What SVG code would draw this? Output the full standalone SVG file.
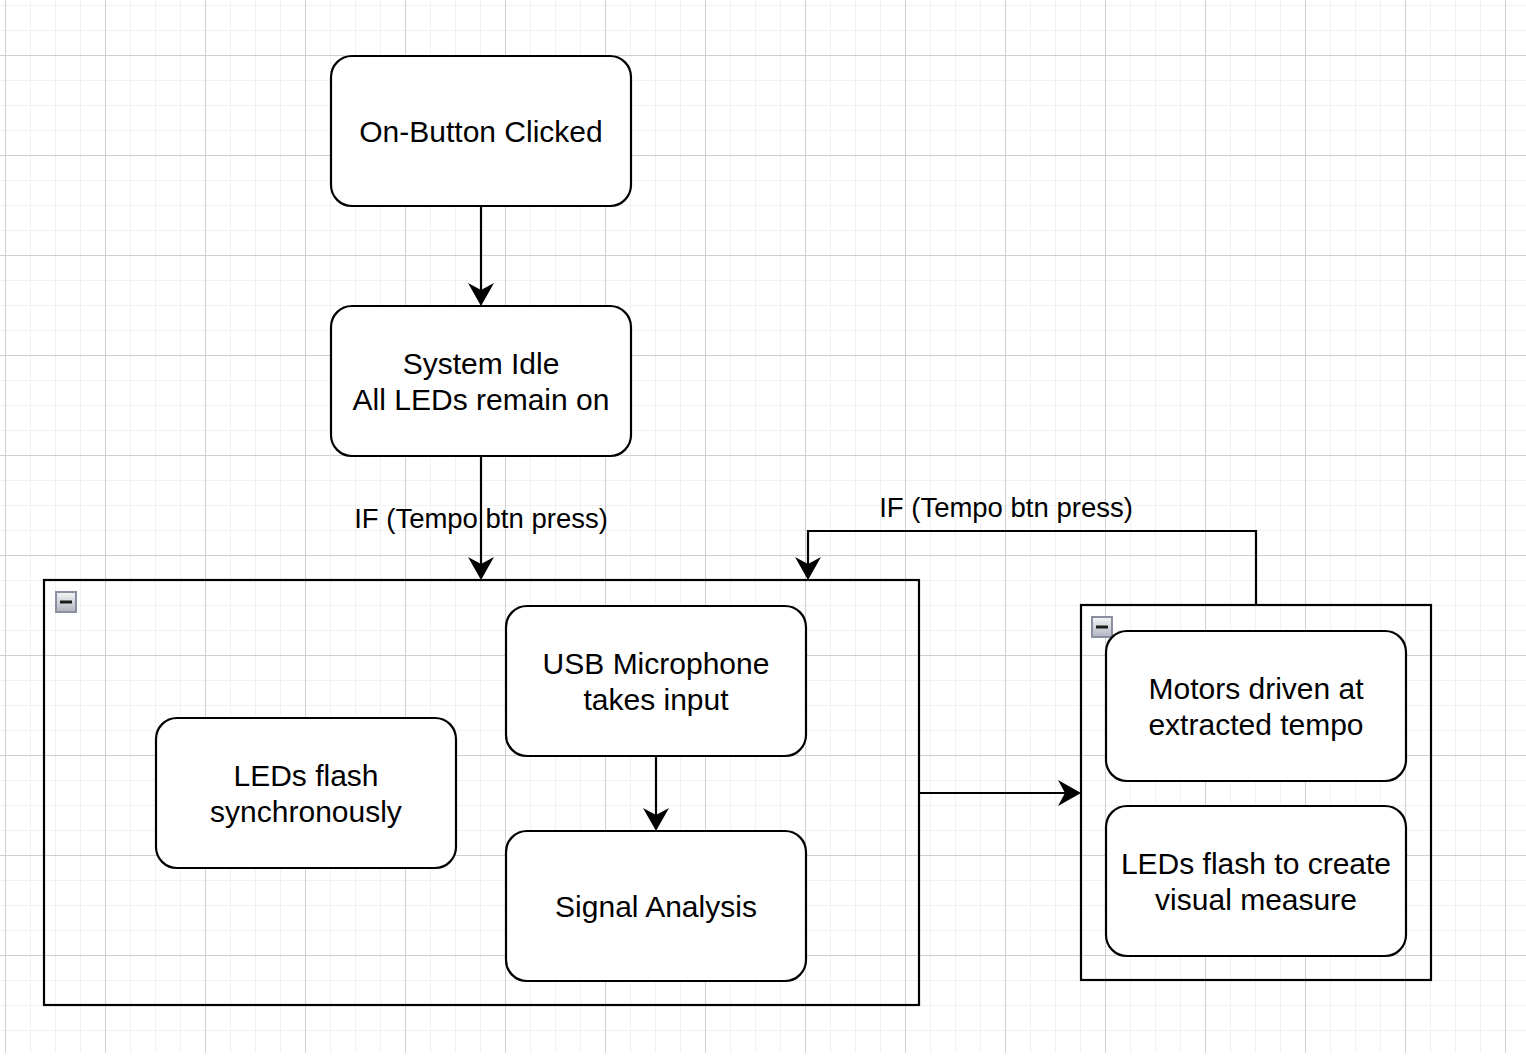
<svg xmlns="http://www.w3.org/2000/svg" width="1526" height="1056" viewBox="0 0 1526 1056">
<defs>
<pattern id="grid" patternUnits="userSpaceOnUse" x="5" y="55" width="100" height="100">
<g fill="#f1f1f1">
<rect x="25" y="0" width="1" height="100"/><rect x="50" y="0" width="1" height="100"/><rect x="75" y="0" width="1" height="100"/>
<rect x="0" y="25" width="100" height="1"/><rect x="0" y="50" width="100" height="1"/><rect x="0" y="75" width="100" height="1"/>
</g>
<g fill="#d0d0d0"><rect x="0" y="0" width="1" height="100"/><rect x="0" y="0" width="100" height="1"/></g>
</pattern>
<linearGradient id="icon" x1="0" y1="0" x2="0" y2="1"><stop offset="0" stop-color="#f6f6f6"/><stop offset="1" stop-color="#b0b4c0"/></linearGradient>
<marker id="arr" viewBox="0 0 23 26" markerWidth="23" markerHeight="26" markerUnits="userSpaceOnUse" refX="7" refY="13" orient="auto"><path d="M23,13 L0,0 L7,13 L0,26 Z" fill="#000"/></marker>
</defs>
<style>
.box{fill:#fff;stroke:#000;stroke-width:2.2}
.cont{fill:none;stroke:#000;stroke-width:2.2}
.t{font-family:"Liberation Sans",Arial,Helvetica,sans-serif;font-size:30px;fill:#000;text-anchor:middle}
.lbl{font-family:"Liberation Sans",Arial,Helvetica,sans-serif;font-size:27.5px;fill:#000;text-anchor:middle}
.edge{fill:none;stroke:#000;stroke-width:2.2}
.ic{fill:url(#icon);stroke:#8a90a0;stroke-width:2}
.minus{stroke:#1a1a1a;stroke-width:3}
</style>
<rect x="0" y="0" width="1526" height="1056" fill="#fff"/>
<rect x="0" y="0" width="1526" height="1053" fill="url(#grid)"/>

<g id="container1">
<rect class="cont" x="44" y="580" width="875" height="425"/>
<rect class="ic" x="56" y="592" width="20" height="20"/>
<line class="minus" x1="60" y1="602" x2="72" y2="602"/>
</g>
<g id="container2">
<rect class="cont" x="1081" y="605" width="350" height="375"/>
<rect class="ic" x="1092" y="617" width="20" height="20"/>
<line class="minus" x1="1096" y1="627" x2="1108" y2="627"/>
</g>

<g id="connectors">
<path class="edge" d="M481,206 L481,290" marker-end="url(#arr)"/>
<path class="edge" d="M481,456 L481,564" marker-end="url(#arr)"/>
<path class="edge" d="M656,756 L656,815" marker-end="url(#arr)"/>
<path class="edge" d="M919,793 L1065,793" marker-end="url(#arr)"/>
<path class="edge" d="M1256,605 L1256,531 L808,531 L808,564" marker-end="url(#arr)"/>
<text class="lbl" x="481" y="527.5">IF (Tempo btn press)</text>
<text class="lbl" x="1006" y="516.5">IF (Tempo btn press)</text>
</g>

<g id="on-button">
<rect class="box" x="331" y="56" width="300" height="150" rx="21"/>
<text class="t" x="481" y="141.5">On-Button Clicked</text>
</g>
<g id="system-idle">
<rect class="box" x="331" y="306" width="300" height="150" rx="21"/>
<text class="t" x="481" y="373.5">System Idle</text>
<text class="t" x="481" y="409.5">All LEDs remain on</text>
</g>
<g id="usb-mic">
<rect class="box" x="506" y="606" width="300" height="150" rx="21"/>
<text class="t" x="656" y="673.5">USB Microphone</text>
<text class="t" x="656" y="709.5">takes input</text>
</g>
<g id="signal-analysis">
<rect class="box" x="506" y="831" width="300" height="150" rx="21"/>
<text class="t" x="656" y="916.5">Signal Analysis</text>
</g>
<g id="leds-sync">
<rect class="box" x="156" y="718" width="300" height="150" rx="21"/>
<text class="t" x="306" y="786">LEDs flash</text>
<text class="t" x="306" y="822">synchronously</text>
</g>
<g id="motors">
<rect class="box" x="1106" y="631" width="300" height="150" rx="21"/>
<text class="t" x="1256" y="698.5">Motors driven at</text>
<text class="t" x="1256" y="734.5">extracted tempo</text>
</g>
<g id="leds-measure">
<rect class="box" x="1106" y="806" width="300" height="150" rx="21"/>
<text class="t" x="1256" y="873.5">LEDs flash to create</text>
<text class="t" x="1256" y="909.5">visual measure</text>
</g>
</svg>
